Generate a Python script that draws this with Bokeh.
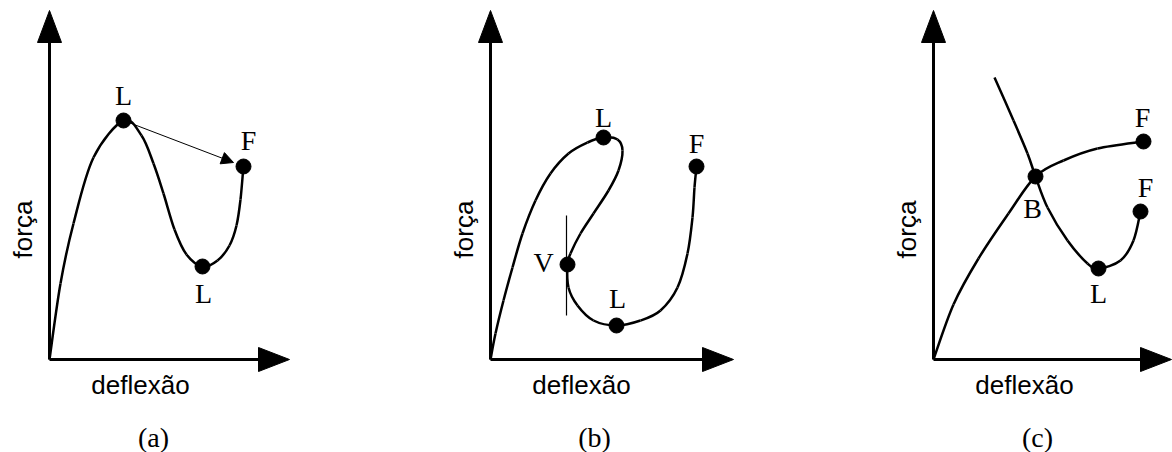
import numpy as np
from bokeh.plotting import figure
from bokeh.models import Range1d, Arrow, NormalHead
from bokeh.core.properties import value
from bokeh.embed import file_html
from bokeh.resources import INLINE

# Schematic force-deflection paths; units: deflexão (u) to the right, força (v) up,
# measured from each panel's origin.
a_defl = [0, 11, 24, 44, 74, 92, 104, 114, 125, 137, 153, 168, 180, 187, 191, 194]
a_forca = [0, 76, 136, 202, 239, 224, 196, 166, 130, 105, 93, 99, 114, 134, 160, 194]
a_pts_defl = [74, 153, 194]
a_pts_forca = [239, 93, 193]
a_pt_labels = ["L", "L", "F"]
a_lab_defl = [74, 154, 199]
a_lab_forca = [264, 66, 219]
a_jump = [(74, 239), (184, 197)]

b_defl = [0, 5, 13, 22, 32, 45, 60, 78, 97, 113, 127, 132, 128, 118, 103, 90, 80, 77,
          78, 87, 103, 126, 150, 170, 187, 197, 202, 204, 206]
b_forca = [0, 26, 59, 92, 126, 159, 186, 206, 217, 222, 220, 209, 189, 169, 146, 126, 106, 95,
           72, 54, 39, 34, 39, 49, 72, 106, 142, 172, 193]
b_pts_defl = [113, 77, 126, 206]
b_pts_forca = [222, 95, 34, 193]
b_pt_labels = ["L", "V", "L", "F"]
b_lab_defl = [113, 53, 127, 206]
b_lab_forca = [242, 97, 61, 216]
b_tangent = [(76, 144), (76, 44)]

c1_defl = [0, 20, 45, 75, 102, 130, 164, 210]
c1_forca = [0, 55, 101, 146, 183, 199, 211, 218]
c2_defl = [61, 80, 94, 102, 114, 134, 154, 165, 187, 200, 207]
c2_forca = [282, 239, 206, 183, 152, 119, 96, 91, 99, 119, 148]
c_pts_defl = [102, 165, 210, 207]
c_pts_forca = [183, 91, 218, 148]
c_pt_labels = ["B", "L", "F", "F"]
c_lab_defl = [99, 165, 209, 212]
c_lab_forca = [151, 66, 242, 172]

panel_names = ["(a)", "(b)", "(c)"]
axis_x_len = [240, 243, 238]
axis_y_len = 349

W, H = 1172, 452
origins = [(49, 93), (490, 93), (933, 93)]

p = figure(width=W, height=H, x_range=Range1d(0, W), y_range=Range1d(0, H),
           output_backend="svg", toolbar_location=None, min_border=0)
p.axis.visible = False
p.grid.visible = False
p.outline_line_color = None
p.background_fill_color = "white"
p.border_fill_color = "white"

SERIF = value("Liberation Serif")
SANS = value("Liberation Sans")


def smooth(p_, u, v, ox, oy, lw=2.5):
    x = np.array(u, float) + ox
    y = np.array(v, float) + oy
    n = len(x)
    xp = np.concatenate([[x[0]], x, [x[-1]]])
    yp = np.concatenate([[y[0]], y, [y[-1]]])
    x0, y0, x1, y1, cx0, cy0, cx1, cy1 = [], [], [], [], [], [], [], []
    for i in range(n - 1):
        k = i + 1
        x0.append(xp[k]); y0.append(yp[k])
        x1.append(xp[k + 1]); y1.append(yp[k + 1])
        cx0.append(xp[k] + (xp[k + 1] - xp[k - 1]) / 6)
        cy0.append(yp[k] + (yp[k + 1] - yp[k - 1]) / 6)
        cx1.append(xp[k + 1] - (xp[k + 2] - xp[k]) / 6)
        cy1.append(yp[k + 1] - (yp[k + 2] - yp[k]) / 6)
    p_.bezier(x0=x0, y0=y0, x1=x1, y1=y1, cx0=cx0, cy0=cy0, cx1=cx1, cy1=cy1,
              line_color="black", line_width=lw)


def axes(p_, ox, oy, xlen, name):
    # axis shafts
    p_.segment(x0=[ox, ox], y0=[oy, oy], x1=[ox, ox + xlen - 28], y1=[oy + axis_y_len - 28, oy],
               line_color="black", line_width=3)
    # arrow heads
    hx = [[ox, ox - 12, ox + 12], [ox + xlen, ox + xlen - 31, ox + xlen - 31]]
    hy = [[oy + axis_y_len, oy + axis_y_len - 32, oy + axis_y_len - 32], [oy, oy + 12, oy - 12]]
    p_.patches(xs=hx, ys=hy, fill_color="black", line_color="black", line_width=1)
    p_.text(x=[ox - 27], y=[oy + 130], text=["força"], angle=np.pi / 2,
            text_font=SANS, text_font_size="26px", text_align="center",
            text_baseline="middle", text_color="black")
    p_.text(x=[ox + 91], y=[oy - 25], text=["deflexão"],
            text_font=SANS, text_font_size="26px", text_align="center",
            text_baseline="middle", text_color="black")
    p_.text(x=[ox + 104], y=[oy - 78], text=[name],
            text_font=SERIF, text_font_size="28px", text_align="center",
            text_baseline="middle", text_color="black")


def points(p_, u, v, lu, lv, labels, ox, oy):
    p_.scatter(x=[a + ox for a in u], y=[b + oy for b in v], size=15,
               fill_color="black", line_color="black")
    p_.text(x=[a + ox for a in lu], y=[b + oy for b in lv], text=labels,
            text_font=SERIF, text_font_size="28px", text_align="center",
            text_baseline="middle", text_color="black")


# (a)
ox, oy = origins[0]
axes(p, ox, oy, axis_x_len[0], panel_names[0])
smooth(p, a_defl, a_forca, ox, oy)
p.add_layout(Arrow(x_start=a_jump[0][0] + ox, y_start=a_jump[0][1] + oy,
                   x_end=a_jump[1][0] + ox, y_end=a_jump[1][1] + oy,
                   line_color="black", line_width=1,
                   end=NormalHead(size=12, fill_color="black", line_color="black")))
points(p, a_pts_defl, a_pts_forca, a_lab_defl, a_lab_forca, a_pt_labels, ox, oy)

# (b)
ox, oy = origins[1]
axes(p, ox, oy, axis_x_len[1], panel_names[1])
smooth(p, b_defl, b_forca, ox, oy)
p.segment(x0=[b_tangent[0][0] + ox], y0=[b_tangent[0][1] + oy],
          x1=[b_tangent[1][0] + ox], y1=[b_tangent[1][1] + oy],
          line_color="black", line_width=1.2)
points(p, b_pts_defl, b_pts_forca, b_lab_defl, b_lab_forca, b_pt_labels, ox, oy)

# (c)
ox, oy = origins[2]
axes(p, ox, oy, axis_x_len[2], panel_names[2])
smooth(p, c1_defl, c1_forca, ox, oy)
smooth(p, c2_defl, c2_forca, ox, oy)
points(p, c_pts_defl, c_pts_forca, c_lab_defl, c_lab_forca, c_pt_labels, ox, oy)

open("out.html", "w").write(file_html(p, INLINE))
